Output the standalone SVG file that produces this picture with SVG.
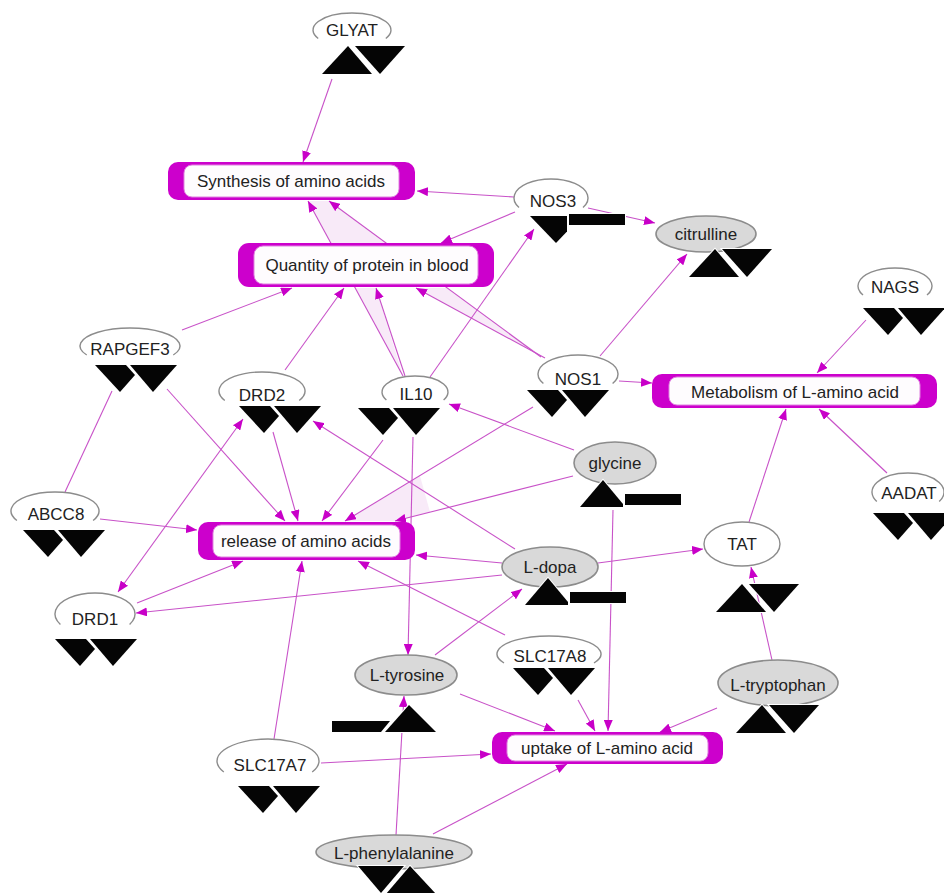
<svg xmlns="http://www.w3.org/2000/svg" xmlns:xlink="http://www.w3.org/1999/xlink" width="944" height="893" viewBox="0 0 944 893">
<style>
.e{fill:none;stroke:#c852c8;stroke-width:1.1}
.a{marker-end:url(#ah)}
.b{marker-start:url(#ah);marker-end:url(#ah)}
.pk{fill:#f8eaf8;stroke:none}
.po{fill:#cc00cc}
.pi{fill:#fefcfe;stroke:#e080e0;stroke-width:1}
.t{font-family:"Liberation Sans",Arial,sans-serif;font-size:17px;fill:#222;text-anchor:middle}
.w{fill:#fff;stroke:#8c8c8c;stroke-width:1.4}
.g{fill:#d9d9d9;stroke:#8c8c8c;stroke-width:1.6}
.gl{fill:#050505;stroke:#fff;stroke-width:2;paint-order:stroke}
</style>
<defs>
<marker id="ah" viewBox="0 0 11 9" refX="11" refY="4.5" markerWidth="11" markerHeight="9" markerUnits="userSpaceOnUse" orient="auto-start-reverse">
<path d="M0,0 L11,4.5 L0,9 z" fill="#c800c8"/>
</marker>
<g id="dd" class="gl"><polygon points="0,0 31,0 40,10 25,27"/><polygon points="35,0 82,0 58,27"/></g>
<g id="ud" class="gl"><polygon points="0,28 26,0 50,28"/><polygon points="33,0 83,0 58,28"/></g>
<g id="ur" class="gl"><polygon points="0,27 23,0 43,24 43,27"/><rect x="45" y="14" width="56" height="11"/></g>
<g id="ru" class="gl"><polygon points="0,16 58,16 49,27 0,27"/><polygon points="53,27 77,0 104,27"/></g>
<g id="du" class="gl"><polygon points="0,0 46,0 23,27"/><polygon points="52,0 78,28 28,28"/></g>
<g id="dr" class="gl"><polygon points="0,2 37,2 37,17.6 26,29"/><rect x="39" y="0" width="56" height="11"/></g>
</defs>
<rect width="944" height="893" fill="#fff"/>

<g id="shading">
<polygon class="pk" points="403,376 355,288 376,288"/>
<polygon class="pk" points="543,357 447,288 416,288"/>
<polygon class="pk" points="331,243 386,243 329,201 308,201"/>
<polygon class="pk" points="345,521 395,521 430,512 420,476"/>
</g>

<g id="connectors">
<line class="e a" x1="332" y1="79" x2="303" y2="162"/>
<line class="e a" x1="514" y1="197" x2="417" y2="191"/>
<line class="e a" x1="515" y1="212" x2="441" y2="243"/>
<line class="e a" x1="588" y1="208" x2="655" y2="223"/>
<line class="e a" x1="430" y1="377" x2="534" y2="229"/>
<line class="e a" x1="405" y1="376" x2="376" y2="288"/>
<line class="e a" x1="403" y1="376" x2="308" y2="201"/>
<line class="e a" x1="545" y1="358" x2="416" y2="288"/>
<line class="e a" x1="541" y1="357" x2="329" y2="201"/>
<line class="e a" x1="600" y1="356" x2="687" y2="254"/>
<line class="e a" x1="619" y1="381" x2="652" y2="383"/>
<line class="e a" x1="866" y1="320" x2="817" y2="373"/>
<line class="e a" x1="887" y1="473" x2="819" y2="409"/>
<line class="e a" x1="749" y1="522" x2="786" y2="409"/>
<line class="e a" x1="182" y1="330" x2="292" y2="288"/>
<line class="e a" x1="285" y1="370" x2="344" y2="288"/>
<line class="e a" x1="167" y1="389" x2="285" y2="521"/>
<line class="e" x1="112" y1="391" x2="65" y2="492"/>
<line class="e a" x1="100" y1="519" x2="197" y2="530"/>
<line class="e a" x1="273" y1="432" x2="298" y2="521"/>
<line class="e b" x1="118" y1="592" x2="243" y2="419"/>
<line class="e a" x1="383" y1="440" x2="322" y2="521"/>
<line class="e a" x1="533" y1="407" x2="345" y2="521"/>
<line class="e a" x1="573" y1="476" x2="395" y2="521"/>
<line class="e a" x1="574" y1="450" x2="449" y2="404"/>
<line class="e a" x1="515" y1="549" x2="313" y2="421"/>
<line class="e a" x1="502" y1="563" x2="416" y2="555"/>
<line class="e a" x1="502" y1="575" x2="136" y2="613"/>
<line class="e a" x1="137" y1="603" x2="243" y2="561"/>
<line class="e a" x1="274" y1="739" x2="302" y2="561"/>
<line class="e a" x1="505" y1="635" x2="358" y2="561"/>
<line class="e a" x1="598" y1="563" x2="703" y2="549"/>
<line class="e a" x1="613" y1="510" x2="608" y2="731"/>
<line class="e a" x1="413" y1="437" x2="408" y2="655"/>
<line class="e a" x1="435" y1="655" x2="522" y2="589"/>
<line class="e a" x1="396" y1="835" x2="404" y2="696"/>
<line class="e a" x1="460" y1="694" x2="555" y2="731"/>
<line class="e a" x1="578" y1="700" x2="595" y2="731"/>
<line class="e a" x1="717" y1="708" x2="660" y2="732"/>
<line class="e a" x1="772" y1="660" x2="751" y2="567"/>
<line class="e a" x1="321" y1="763" x2="491" y2="754"/>
<line class="e a" x1="433" y1="834" x2="567" y2="764"/>
</g>

<g id="synthesis"><rect class="po" x="168" y="162" width="247" height="38" rx="10"/><rect class="pi" x="184" y="165" width="215" height="32" rx="8"/><text class="t" x="291" y="187">Synthesis of amino acids</text></g>
<g id="quantity"><rect class="po" x="238" y="243" width="256" height="44" rx="11"/><rect class="pi" x="254" y="246" width="224" height="38" rx="9"/><text class="t" x="367" y="271">Quantity of protein in blood</text></g>
<g id="metabolism"><rect class="po" x="652" y="374" width="285" height="34" rx="10"/><rect class="pi" x="669" y="377" width="251" height="28" rx="8"/><text class="t" x="795" y="398">Metabolism of L-amino acid</text></g>
<g id="release"><rect class="po" x="198" y="522" width="217" height="38" rx="10"/><rect class="pi" x="213" y="525" width="187" height="32" rx="8"/><text class="t" x="306" y="547">release of amino acids</text></g>
<g id="uptake"><rect class="po" x="492" y="732" width="231" height="32" rx="10"/><rect class="pi" x="507" y="735" width="201" height="26" rx="8"/><text class="t" x="607" y="754">uptake of L-amino acid</text></g>

<g id="GLYAT"><path class="w" d="M318.2,38.5 A39,17 0 1 1 385.8,38.5"/><text class="t" x="352" y="36">GLYAT</text><use href="#ud" x="322" y="46"/></g>
<g id="NOS3"><path class="w" d="M519,207.5 A37,19 0 1 1 583,207.5"/><text class="t" x="553" y="207">NOS3</text><use href="#dr" x="530" y="214"/></g>
<g id="citrulline"><ellipse class="g" cx="706" cy="234" rx="50" ry="18"/><text class="t" x="706" y="240">citrulline</text><use href="#ud" x="689" y="249"/></g>
<g id="NAGS"><path class="w" d="M863,295 A37,18 0 1 1 927,295"/><text class="t" x="895" y="293">NAGS</text><use href="#dd" x="863" y="308"/></g>
<g id="RAPGEF3"><path class="w" d="M86.7,355 A50,18 0 1 1 173.3,355"/><text class="t" x="130" y="355">RAPGEF3</text><use href="#dd" x="95" y="365"/></g>
<g id="DRD2"><path class="w" d="M224.8,400.5 A43,19 0 1 1 299.2,400.5"/><text class="t" x="262" y="401">DRD2</text><use href="#dd" x="239" y="406"/></g>
<g id="IL10"><path class="w" d="M386.4,400 A33,16 0 1 1 443.6,400"/><text class="t" x="416" y="400">IL10</text><use href="#dd" x="358" y="408"/></g>
<g id="NOS1"><path class="w" d="M543.4,383.5 A40,19 0 1 1 612.6,383.5"/><text class="t" x="578" y="385">NOS1</text><use href="#dd" x="527" y="390"/></g>
<g id="ABCC8"><path class="w" d="M16.9,520.5 A44,19 0 1 1 93.1,520.5"/><text class="t" x="56" y="520">ABCC8</text><use href="#dd" x="23" y="530"/></g>
<g id="glycine"><ellipse class="g" cx="615" cy="463" rx="41" ry="21"/><text class="t" x="615" y="469">glycine</text><use href="#ur" x="580" y="480"/></g>
<g id="AADAT"><path class="w" d="M876.8,501.5 A36,19 0 1 1 939.2,501.5"/><text class="t" x="909" y="499">AADAT</text><use href="#dd" x="873" y="513"/></g>
<g id="TAT"><ellipse class="w" cx="742" cy="544" rx="38" ry="22"/><text class="t" x="742" y="550">TAT</text><use href="#ud" x="716" y="584"/></g>
<g id="L-dopa"><ellipse class="g" cx="550" cy="567" rx="48" ry="20"/><text class="t" x="550" y="573">L-dopa</text><use href="#ur" x="525" y="578"/></g>
<g id="DRD1"><path class="w" d="M60.4,624.5 A40,21 0 1 1 129.6,624.5"/><text class="t" x="95" y="625">DRD1</text><use href="#dd" x="55" y="639"/></g>
<g id="SLC17A8"><path class="w" d="M504,663 A52,18 0 1 1 594,663"/><text class="t" x="550" y="662">SLC17A8</text><use href="#dd" x="513" y="668"/></g>
<g id="L-tyrosine"><ellipse class="g" cx="406" cy="675" rx="51" ry="20"/><text class="t" x="407" y="681">L-tyrosine</text><use href="#ru" x="332" y="705"/></g>
<g id="L-tryptophan"><ellipse class="g" cx="778" cy="683" rx="60" ry="23"/><text class="t" x="778" y="691">L-tryptophan</text><use href="#ud" x="736" y="705"/></g>
<g id="SLC17A7"><path class="w" d="M223.8,772 A51,22 0 1 1 312.2,772"/><text class="t" x="270" y="771">SLC17A7</text><use href="#dd" x="238" y="786"/></g>
<g id="L-phenylalanine"><ellipse class="g" cx="394" cy="852" rx="78" ry="17"/><text class="t" x="394" y="859">L-phenylalanine</text><use href="#du" x="358" y="866"/></g>
</svg>
